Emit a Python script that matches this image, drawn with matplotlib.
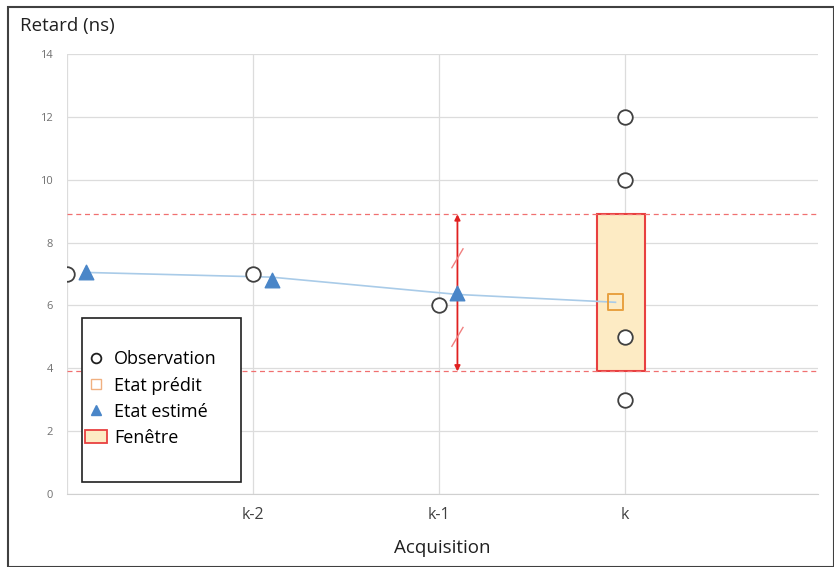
import matplotlib
matplotlib.use("Agg")
import matplotlib.pyplot as plt
from matplotlib.patches import Rectangle, Patch
from matplotlib.lines import Line2D

plt.rcParams['font.family'] = ['Open Sans', 'DejaVu Sans']

# Data
tick_labels = ["k-2", "k-1", "k"]
tick_pos = [1, 2, 3]
obs_x = [0, 1, 2, 3, 3, 3, 3]
obs_y = [7, 7, 6, 12, 10, 5, 3]
est_x = [0.1, 1.1, 2.1]
est_y = [7.05, 6.8, 6.4]
line_x = [0.1, 1.1, 2.1, 2.95]
line_y = [7.05, 6.9, 6.35, 6.1]
pred_x = [2.95]
pred_y = [6.1]
win_low, win_high = 3.9, 8.9
win_x0, win_x1 = 2.85, 3.11
arrow_x = 2.1

fig = plt.figure(figsize=(8.34, 5.67), dpi=100)
ax = fig.add_axes([0.0803, 0.1287, 0.9007, 0.7761])

ax.set_xlim(0, 4.04)
ax.set_ylim(0, 14)
ax.set_yticks(range(0, 15, 2))
ax.set_xticks([0] + tick_pos)
ax.set_xticklabels([""] + tick_labels, fontsize=11.5, color='#404040')
ax.tick_params(axis='y', labelsize=8, colors='#707070', length=0, pad=10)
ax.tick_params(axis='x', length=0, pad=9)
ax.grid(True, color='#dcdcdc', linewidth=0.9)
ax.set_axisbelow(True)
for s in ['top', 'right', 'left']:
    ax.spines[s].set_visible(False)
ax.spines['bottom'].set_color('#d0d0d0')

# Window
ax.add_patch(Rectangle((win_x0, win_low), win_x1 - win_x0, win_high - win_low,
                       facecolor='#fdebc4', edgecolor='#e84040', linewidth=1.5, zorder=2))
ax.axhline(win_high, color='#f07070', linestyle=(0, (4, 3)), linewidth=0.9, zorder=2)
ax.axhline(win_low, color='#f07070', linestyle=(0, (4, 3)), linewidth=0.9, zorder=2)

# Arrow
ax.annotate('', xy=(arrow_x, win_high), xytext=(arrow_x, win_low),
            arrowprops=dict(arrowstyle='<|-|>', color='#e02020', lw=1.3,
                            mutation_scale=8, shrinkA=0, shrinkB=0), zorder=3)
for yy in [7.5, 5.0]:
    ax.plot([arrow_x - 0.03, arrow_x + 0.03], [yy - 0.3, yy + 0.3], color='#f08080', lw=1.0, zorder=3)

# Estimated line
ax.plot(line_x, line_y, color='#a9cbe8', linewidth=1.2, zorder=3)
ax.scatter(est_x, est_y, marker='^', s=110, color='#4a86c8', zorder=4)
ax.scatter(pred_x, pred_y, marker='s', s=130, facecolor='none', edgecolor='#e8a040', linewidth=1.4, zorder=5)
ax.scatter(obs_x, obs_y, marker='o', s=110, facecolor='white', edgecolor='#404040', linewidth=1.3, zorder=5)

# Labels
fig.text(0.024, 0.955, "Retard (ns)", fontsize=13.5, color='#202020', va='center', ha='left')
ax.set_xlabel("Acquisition", fontsize=13.5, color='#202020', labelpad=12)

# Legend box (frame drawn separately)
box = Rectangle((0.0983, 0.150), 0.1906, 0.2892, transform=fig.transFigure,
                facecolor='white', edgecolor='#202020', linewidth=1.2, zorder=9)
fig.patches.append(box)

handles = [
    Line2D([], [], marker='o', linestyle='none', markersize=7, markerfacecolor='white',
           markeredgecolor='#202020', markeredgewidth=1.3),
    Line2D([], [], marker='s', linestyle='none', markersize=7, markerfacecolor='none',
           markeredgecolor='#f0b080', markeredgewidth=1.0),
    Line2D([], [], marker='^', linestyle='none', markersize=7, color='#4a86c8'),
    Patch(facecolor='#fdebc4', edgecolor='#e84040', linewidth=1.3),
]
labels = ["Observation", "Etat prédit", "Etat estimé", "Fenêtre"]
leg = fig.legend(handles, labels, loc='upper left', bbox_to_anchor=(0.102, 0.382),
                 bbox_transform=fig.transFigure,
                 fontsize=13, frameon=False, handlelength=1.2,
                 handletextpad=0.4, labelspacing=0.45, borderpad=0, borderaxespad=0)
leg.set_zorder(10)

# Figure border
fig.patches.append(Rectangle((0.0096, 0.0), 0.99, 0.988, transform=fig.transFigure,
                             fill=False, edgecolor='#404040', linewidth=1.5))

fig.savefig("out.png", dpi=100)
